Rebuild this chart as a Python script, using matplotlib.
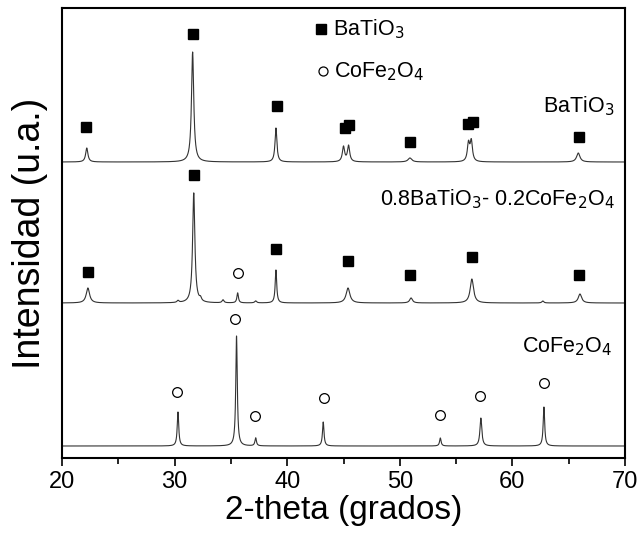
import numpy as np
import matplotlib
matplotlib.use("Agg")
import matplotlib.pyplot as plt
from matplotlib.ticker import MultipleLocator

plt.rcParams['font.family'] = ['Liberation Sans', 'DejaVu Sans']

# ---- data (y in arbitrary offset units) ----
bt_baseline = 296
bt_pos = [22.2, 31.6, 39.0, 45.0, 45.45, 50.9, 56.1, 56.35, 65.85]
bt_top = [310, 406, 330, 311, 312, 300, 314, 316, 305]
bt_width = [0.12, 0.12, 0.10, 0.12, 0.12, 0.2, 0.12, 0.12, 0.18]

mix_baseline = 155
mix_pos = [22.3, 30.3, 31.7, 32.3, 34.3, 35.6, 37.2, 39.0, 45.4, 51.0, 56.4, 62.7, 66.0]
mix_top = [170, 157, 265, 158, 158, 165, 157, 188, 170, 160, 179, 157, 164]
mix_width = [0.18, 0.1, 0.12, 0.1, 0.1, 0.08, 0.1, 0.08, 0.2, 0.15, 0.18, 0.1, 0.18]

cf_baseline = 12
cf_pos = [30.3, 35.5, 37.2, 43.2, 53.6, 57.2, 62.8]
cf_top = [46, 122, 20, 36, 20, 40, 51]
cf_width = [0.08, 0.08, 0.08, 0.08, 0.08, 0.1, 0.08]

bt_sq_x = [22.1, 31.6, 39.1, 45.1, 45.5, 50.9, 56.1, 56.5, 65.9]
bt_sq_y = [331, 424, 352, 330, 333, 316, 334, 336, 321]
mix_sq_x = [22.3, 31.7, 39.0, 45.4, 50.9, 56.4, 65.9]
mix_sq_y = [186, 283, 209, 197, 183, 201, 183]
mix_ci_x = [35.6]
mix_ci_y = [185]
cf_ci_x = [30.2, 35.4, 37.1, 43.3, 53.6, 57.1, 62.8]
cf_ci_y = [66, 139, 42, 60, 43, 62, 75]

x = np.linspace(20, 70, 5001)

def trace(base, pos, top, wid):
    y = np.full_like(x, float(base))
    for p, t, w in zip(pos, top, wid):
        y += (t - base) / (1 + ((x - p) / w) ** 2)
    return y

fig = plt.figure(figsize=(6.39, 5.39), dpi=100)
ax = fig.add_axes([62/639, 81/539, 563/639, 450/539])

lc = '#333333'
for base, pos, top, wid in [(bt_baseline, bt_pos, bt_top, bt_width),
                            (mix_baseline, mix_pos, mix_top, mix_width),
                            (cf_baseline, cf_pos, cf_top, cf_width)]:
    ax.plot(x, trace(base, pos, top, wid), color=lc, lw=0.8)

ms = 7
ax.plot(bt_sq_x, bt_sq_y, 's', color='black', ms=ms, ls='none')
ax.plot(mix_sq_x, mix_sq_y, 's', color='black', ms=ms, ls='none')
ax.plot(mix_ci_x, mix_ci_y, 'o', mfc='white', mec='black', mew=0.9, ms=ms, ls='none')
ax.plot(cf_ci_x, cf_ci_y, 'o', mfc='white', mec='black', mew=0.9, ms=ms, ls='none')

# legend-like annotations
fs = 15.5
ax.plot([43.0], [429], 's', color='black', ms=6.5)
ax.text(44.1, 423, r'BaTiO$_3$', fontsize=fs, va='baseline', ha='left')
ax.plot([43.2], [387], 'o', mfc='white', mec='black', mew=0.9, ms=6.5)
ax.text(44.2, 381, r'CoFe$_2$O$_4$', fontsize=fs, va='baseline', ha='left')

ax.text(69.1, 346, r'BaTiO$_3$', fontsize=fs, va='baseline', ha='right')
ax.text(69.1, 253, r'0.8BaTiO$_3$- 0.2CoFe$_2$O$_4$', fontsize=fs, va='baseline', ha='right')
ax.text(68.9, 106, r'CoFe$_2$O$_4$', fontsize=fs, va='baseline', ha='right')

ax.set_xlim(20, 70)
ax.set_ylim(0, 450)
ax.set_yticks([])
ax.xaxis.set_major_locator(MultipleLocator(10))
ax.xaxis.set_minor_locator(MultipleLocator(5))
ax.tick_params(axis='x', which='major', direction='out', length=6, width=1.2, labelsize=17)
ax.tick_params(axis='x', which='minor', direction='out', length=4, width=1.2)
for s in ax.spines.values():
    s.set_linewidth(1.5)
ax.set_xlabel('2-theta (grados)', fontsize=24, labelpad=1)
ax.set_ylabel('Intensidad (u.a.)', fontsize=27, labelpad=10)

fig.savefig('out.png', dpi=100)
